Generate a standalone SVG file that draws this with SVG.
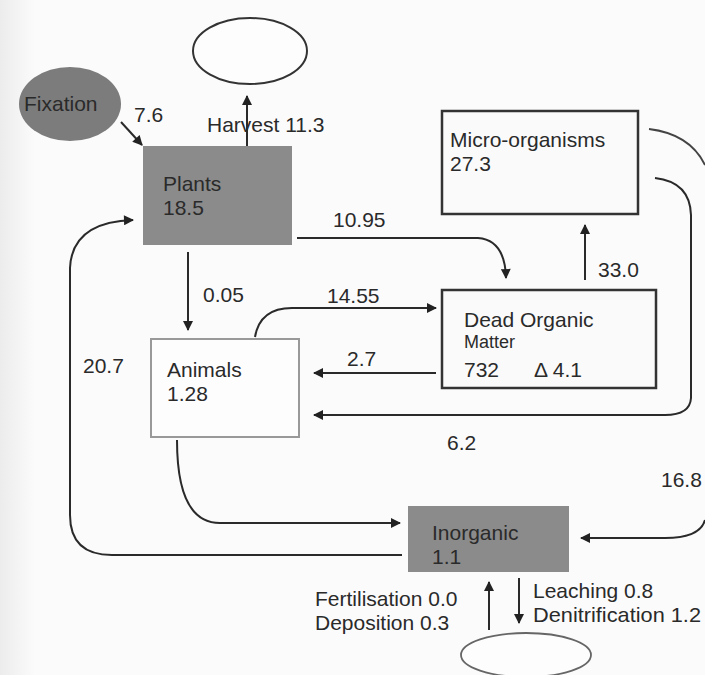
<svg xmlns="http://www.w3.org/2000/svg" width="705" height="675" viewBox="0 0 705 675">
<defs>
<marker id="ah" viewBox="0 0 10 10" refX="9" refY="5" markerWidth="11" markerHeight="10" orient="auto-start-reverse" markerUnits="userSpaceOnUse">
<path d="M0,0 L10,5 L0,10 z" fill="#222"/>
</marker>
<linearGradient id="edge" x1="0" x2="1" y1="0" y2="0">
<stop offset="0" stop-color="#ececec"/>
<stop offset="1" stop-color="#fbfbfb"/>
</linearGradient>
<style>
text{font-family:"Liberation Sans",Arial,sans-serif;font-size:21px;fill:#2a2a2a}
.sm{font-size:18px}
.box{fill:#fafafa;stroke:#333;stroke-width:2.5}
.lbox{fill:#fdfdfd;stroke:#999;stroke-width:2}
.gbox{fill:#8b8b8b;stroke:#8b8b8b;stroke-width:2}
.c{fill:none;stroke:#2a2a2a;stroke-width:2;marker-end:url(#ah)}
.c2{fill:none;stroke:#444;stroke-width:1.8}
</style>
</defs>
<rect width="705" height="675" fill="#fbfbfb"/>
<rect x="0" y="0" width="35" height="675" fill="url(#edge)"/>

<g id="fixation">
<ellipse cx="70" cy="104" rx="51" ry="37" fill="#7c7c7c"/>
<text x="24" y="111" fill="#333">Fixation</text>
</g>
<g id="harvest-sink">
<ellipse cx="250" cy="51" rx="57" ry="33" fill="#fdfdfd" stroke="#333" stroke-width="2"/>
</g>
<g id="plants">
<rect class="gbox" x="144" y="147" width="147" height="97"/>
<text x="163" y="191">Plants</text>
<text x="163" y="215">18.5</text>
</g>
<g id="micro">
<rect class="box" x="442" y="111" width="196" height="103"/>
<text x="450" y="147">Micro-organisms</text>
<text x="450" y="171">27.3</text>
</g>
<g id="dom">
<rect class="box" x="442" y="290" width="214" height="98"/>
<text x="464" y="327">Dead Organic</text>
<text class="sm" x="464" y="348">Matter</text>
<text x="464" y="377">732</text>
<text x="534" y="377">Δ 4.1</text>
</g>
<g id="animals">
<rect class="lbox" x="151" y="339" width="148" height="98"/>
<text x="167" y="377">Animals</text>
<text x="167" y="401">1.28</text>
</g>
<g id="inorganic">
<rect class="gbox" x="409" y="507" width="159" height="64"/>
<text x="432" y="540">Inorganic</text>
<text x="432" y="564">1.1</text>
</g>
<g id="soil-sink">
<ellipse cx="526" cy="655" rx="65" ry="22" fill="#fdfdfd" stroke="#666" stroke-width="1.8"/>
</g>

<g id="connectors">
<path class="c" d="M121,122 L142,145"/>
<path class="c" d="M247,146 L247,96"/>
<path class="c" d="M297,238 L478,238 Q505,240 506,278"/>
<path class="c" d="M585,280 L585,225"/>
<path class="c" d="M188,252 L188,330"/>
<path class="c" d="M255,337 Q260,308 292,308 L436,308"/>
<path class="c" d="M436,373 L314,373"/>
<path class="c" d="M655,178 Q690,182 691,215 L691,398 Q690,415 665,415 L314,415"/>
<path class="c2" d="M649,129 Q690,134 705,165"/>
<path class="c" d="M705,520 Q700,538 665,538 L581,538"/>
<path class="c" d="M177,440 Q177,523 220,523 L400,523"/>
<path class="c" d="M402,555 L112,555 Q70,555 70,515 L70,268 Q72,222 133,220"/>
<path class="c" d="M489,630 L489,582"/>
<path class="c" d="M519,578 L519,623"/>
</g>

<g id="labels">
<text x="134" y="122">7.6</text>
<text x="207" y="132">Harvest 11.3</text>
<text x="333" y="227">10.95</text>
<text x="598" y="277">33.0</text>
<text x="203" y="302">0.05</text>
<text x="327" y="303">14.55</text>
<text x="347" y="366">2.7</text>
<text x="447" y="450">6.2</text>
<text x="83" y="373">20.7</text>
<text x="661" y="487">16.8</text>
<text x="315" y="606">Fertilisation 0.0</text>
<text x="315" y="630">Deposition 0.3</text>
<text x="533" y="598">Leaching 0.8</text>
<text x="533" y="622" textLength="168" lengthAdjust="spacingAndGlyphs">Denitrification 1.2</text>
</g>
</svg>
